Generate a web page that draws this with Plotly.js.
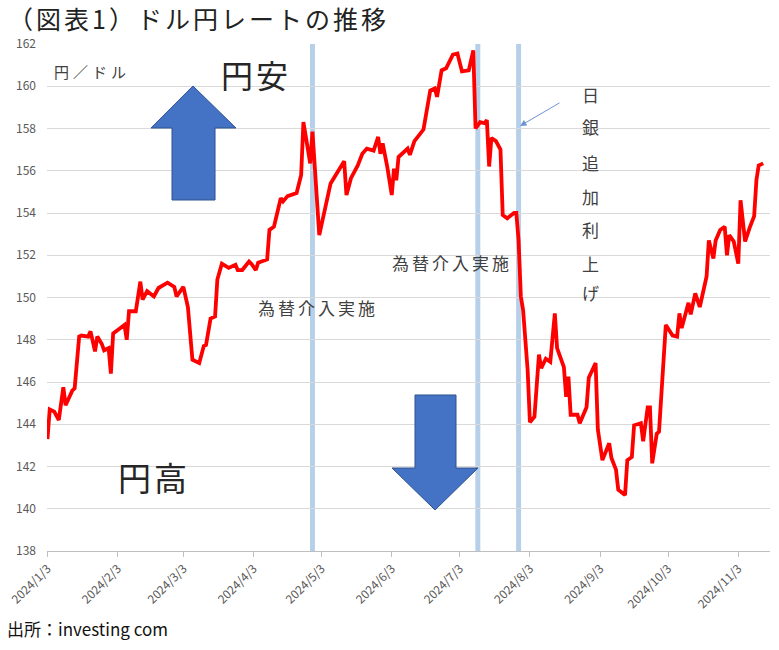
<!DOCTYPE html>
<html><head><meta charset="utf-8">
<script src="https://cdn.plot.ly/plotly-3.0.1.min.js"></script>
<style>body{margin:0;background:#fff}#chart{width:779px;height:650px}</style>
</head><body><div id="chart"></div>
<script>
const dates = [
'2024-01-03','2024-01-04','2024-01-06','2024-01-08','2024-01-10','2024-01-11','2024-01-14','2024-01-15','2024-01-17','2024-01-18',
'2024-01-21','2024-01-22','2024-01-24','2024-01-25','2024-01-27','2024-01-28','2024-01-30','2024-01-31','2024-02-01','2024-02-04',
'2024-02-06','2024-02-07','2024-02-08','2024-02-11','2024-02-13','2024-02-14','2024-02-16','2024-02-19','2024-02-21','2024-02-25',
'2024-02-28','2024-02-29','2024-03-03','2024-03-05','2024-03-07','2024-03-10','2024-03-12','2024-03-13','2024-03-15','2024-03-17',
'2024-03-18','2024-03-20','2024-03-23','2024-03-26','2024-03-27','2024-03-29','2024-04-01','2024-04-02','2024-04-04','2024-04-05',
'2024-04-09','2024-04-10','2024-04-12','2024-04-15','2024-04-16','2024-04-18','2024-04-22','2024-04-24','2024-04-25','2024-04-28',
'2024-04-29','2024-05-02','2024-05-07','2024-05-13','2024-05-14','2024-05-16','2024-05-19','2024-05-21','2024-05-23','2024-05-26',
'2024-05-28','2024-05-29','2024-05-30','2024-06-01','2024-06-03','2024-06-04','2024-06-05','2024-06-06','2024-06-10','2024-06-11',
'2024-06-13','2024-06-17','2024-06-20','2024-06-22','2024-06-23','2024-06-25','2024-06-27','2024-06-30','2024-07-02','2024-07-04',
'2024-07-07','2024-07-09','2024-07-10','2024-07-12','2024-07-14','2024-07-15','2024-07-16','2024-07-17','2024-07-19','2024-07-21',
'2024-07-22','2024-07-24','2024-07-27','2024-07-28','2024-07-29','2024-07-30','2024-07-31','2024-08-02','2024-08-03','2024-08-05',
'2024-08-07','2024-08-08','2024-08-10','2024-08-12','2024-08-14','2024-08-15','2024-08-18','2024-08-19','2024-08-20','2024-08-21',
'2024-08-24','2024-08-25','2024-08-28','2024-08-29','2024-09-01','2024-09-02','2024-09-04','2024-09-07','2024-09-08','2024-09-10',
'2024-09-11','2024-09-14','2024-09-15','2024-09-17','2024-09-18','2024-09-21','2024-09-22','2024-09-24','2024-09-25','2024-09-26',
'2024-09-28','2024-09-29','2024-10-01','2024-10-02','2024-10-05','2024-10-07','2024-10-08','2024-10-09','2024-10-12','2024-10-13',
'2024-10-15','2024-10-17','2024-10-20','2024-10-21','2024-10-23','2024-10-24','2024-10-26','2024-10-28','2024-10-29','2024-10-30',
'2024-11-01','2024-11-03','2024-11-04','2024-11-06','2024-11-08','2024-11-10','2024-11-11','2024-11-12','2024-11-14'
];
const usdjpy = [
143.3,144.7,144.6,144.2,145.75,144.9,145.6,145.7,148.15,148.2,
148.15,148.4,147.45,148.15,147.8,147.5,147.6,146.4,148.3,148.55,
148.7,148.0,149.35,149.35,150.75,149.9,150.3,150.05,150.45,150.7,
150.5,150.05,150.5,149.55,147.05,146.9,147.7,147.75,149.0,149.1,
150.85,151.6,151.4,151.55,151.3,151.3,151.7,151.6,151.3,151.65,
151.8,153.2,153.35,154.7,154.55,154.8,154.95,155.8,158.3,156.35,
157.85,152.95,155.4,156.45,154.85,155.65,156.25,156.8,157.05,156.95,
157.6,156.8,157.3,156.2,154.85,156.1,155.55,156.65,157.05,156.75,
157.4,157.95,159.8,159.9,159.5,160.75,160.85,161.5,161.55,160.7,
160.75,161.7,158.0,158.3,158.25,158.4,156.2,157.55,157.4,157.0,
153.9,153.75,154.0,154.0,152.7,150.05,149.4,146.55,144.1,144.35,
147.3,146.65,147.1,146.95,149.25,147.6,146.7,145.3,146.25,144.45,
144.45,144.05,144.8,146.2,146.9,143.75,142.3,143.1,142.4,141.85,
140.9,140.65,142.3,142.45,143.95,144.05,143.2,144.8,144.8,142.15,
143.55,143.65,146.7,148.7,148.2,148.15,149.25,148.55,149.75,149.2,
150.2,149.55,151.0,152.7,151.85,152.7,153.2,153.35,152.0,152.95,
152.65,151.6,154.6,152.65,153.3,153.85,155.55,156.25,156.35
];
const tickDates = ['2024-01-03','2024-02-03','2024-03-03','2024-04-03','2024-05-03','2024-06-03','2024-07-03','2024-08-03','2024-09-03','2024-10-03','2024-11-03'];
const tickLabels = ['2024/1/3','2024/2/3','2024/3/3','2024/4/3','2024/5/3','2024/6/3','2024/7/3','2024/8/3','2024/9/3','2024/10/3','2024/11/3'];
const eventDates = ['2024-04-29','2024-07-11','2024-07-29'];
const interventionLabel = '為替介入実施';
const bojLabelChars = ['日','銀','追','加','利','上','げ'];

// layout helpers (pixel -> paper)
const L = 47, R = 770, T = 44, B = 551;
const px = v => (v - L) / (R - L);
const py = v => (B - v) / (B - T);
const path = pts => 'M' + pts.map(p => px(p[0]).toFixed(4) + ',' + py(p[1]).toFixed(4)).join(' L') + ' Z';

const FONT = '"Noto Sans CJK JP", "Noto Sans", sans-serif';
const sp = (t, s) => '<span style="letter-spacing:' + s + 'px">' + t + '</span>';

const shapes = eventDates.map(d => ({
  type: 'line', xref: 'x', yref: 'paper', x0: d, x1: d, y0: 0, y1: 1,
  line: {color: '#b7d0ea', width: 5}, layer: 'between'
}));
shapes.push({
  type: 'path', xref: 'paper', yref: 'paper',
  path: path([[193,86],[236,128],[215,128],[215,200],[172,200],[172,128],[151,128]]),
  fillcolor: '#4472c4', line: {color: '#2f528f', width: 1}, layer: 'above'
});
shapes.push({
  type: 'path', xref: 'paper', yref: 'paper',
  path: path([[415,395],[456,395],[456,468],[478,468],[435,510],[392,468],[415,468]]),
  fillcolor: '#4472c4', line: {color: '#2f528f', width: 1}, layer: 'above'
});

const ann = (text, x, y, size, color) => ({
  text, xref: 'paper', yref: 'paper', x: px(x), y: py(y), xanchor: 'center', yanchor: 'middle',
  showarrow: false, font: {family: FONT, size, color: color || '#404040'}
});
const annotations = [
  ann(sp('円／ドル', 4), 92, 72, 15),
  ann(sp('円安', 3), 256, 74, 32, '#262626'),
  ann(sp('円高', 3), 154, 477, 33, '#262626'),
  ann(sp(interventionLabel, 3), 318, 307, 17),
  ann(sp(interventionLabel, 3), 452, 262, 17)
];
const bojY = [95, 127, 162, 196, 229, 263, 292];
bojLabelChars.forEach((c, i) => annotations.push(ann(c, 590, bojY[i], 17)));
annotations.push({
  text: '', xref: 'paper', yref: 'paper', x: px(520), y: py(126), ax: 41, ay: -24,
  showarrow: true, arrowhead: 2, arrowsize: 1.3, arrowwidth: 1, arrowcolor: '#6f93d0', standoff: 0
});
annotations.push({
  text: '出所：investing com', xref: 'paper', yref: 'paper', x: px(5), y: py(628),
  xanchor: 'left', yanchor: 'middle', showarrow: false, font: {family: FONT, size: 17, color: '#111'}
});

const trace = {
  x: dates, y: usdjpy, type: 'scatter', mode: 'lines',
  line: {color: '#ff0000', width: 3.8}, hoverinfo: 'x+y'
};

const layout = {
  width: 779, height: 650,
  margin: {l: L, r: 779 - R, t: T, b: 650 - B},
  paper_bgcolor: '#ffffff', plot_bgcolor: '#ffffff',
  showlegend: false,
  title: {
    text: sp('（図表1）ドル円レートの推移', 3), x: 8 / 779, xanchor: 'left', xref: 'container',
    y: 1 - 20 / 650, yanchor: 'middle', yref: 'container',
    font: {family: FONT, size: 25, color: '#222'}
  },
  xaxis: {
    type: 'date', range: ['2024-01-02 19:00', '2024-11-17'],
    tickvals: tickDates, ticktext: tickLabels, tickangle: -45,
    tickfont: {family: FONT, size: 12, color: '#595959'},
    showgrid: false, showline: true, linecolor: '#bfbfbf', linewidth: 1,
    ticks: 'outside', ticklen: 5, tickcolor: '#bfbfbf', zeroline: false
  },
  yaxis: {
    range: [138, 162], dtick: 2, tick0: 138,
    tickfont: {family: FONT, size: 12, color: '#595959'},
    showgrid: true, gridcolor: '#d9d9d9', gridwidth: 1,
    showline: false, zeroline: false, ticks: '', ticklabelstandoff: 10
  },
  shapes, annotations
};

Plotly.newPlot('chart', [trace], layout, {displayModeBar: false, staticPlot: true});
</script>
</body></html>
